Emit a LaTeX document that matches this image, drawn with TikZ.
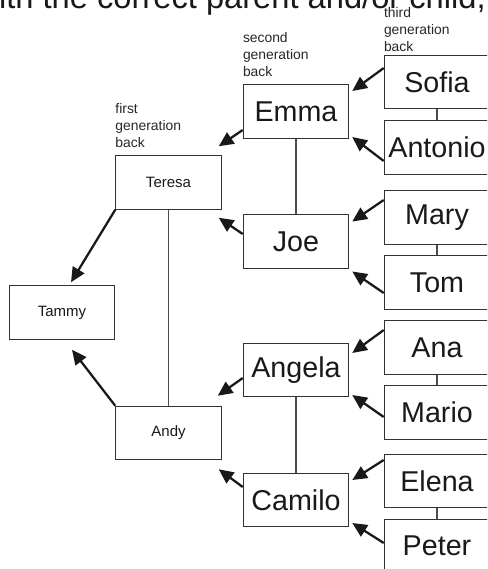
\documentclass[tikz,border=0pt]{standalone}
\usepackage{fontspec}
\setmainfont{Liberation Sans}
\usetikzlibrary{arrows.meta}

\tikzset{
	person/.style={draw=black!80, line width=0.9pt, minimum width=79pt, minimum height=40pt, inner sep=0pt, text=black!90},
	bigname/.style={person, font=\fontsize{21.5}{24}\selectfont},
	smallname/.style={person, font=\fontsize{11.25}{13}\selectfont},
	genlabel/.style={align=left, inner sep=0pt, anchor=south west, font=\fontsize{10.4}{12.75}\selectfont, text=black!85},
	parentarrow/.style={line width=1.7pt, black!90, -{Triangle[length=11pt,width=10pt]}},
	couple/.style={line width=0.9pt, black!70}
}

\begin{document}
\begin{tikzpicture}[x=0.75pt, y=-0.75pt]
	\useasboundingbox (0,0) rectangle (487,569);
	\clip (0,0) rectangle (487,569);

	\node [anchor=base east, inner sep=0pt, font=\fontsize{24.5}{28}\selectfont, text=black!90] (title) at (486,8) {with the correct parent and/or child,};

	\node [smallname] (tammy) at (62,312.5) {Tammy};
	\node [smallname] (teresa) at (168.5,182.5) {Teresa};
	\node [smallname] (andy) at (168.5,433) {Andy};

	\foreach \name/\y/\txt in {emma/111.5/Emma, joe/241.5/Joe, angela/370/Angela, camilo/500/Camilo}
		\node [bigname] (\name) at (296,\y) {\txt};

	\foreach \name/\y/\txt in {sofia/82/Sofia, antonio/147.5/Antonio, mary/217.5/Mary, tom/282.5/Tom,
		ana/347.5/Ana, mario/412.5/Mario, elena/481/Elena, peter/546/Peter}
		\node [bigname] (\name) at (437,\y) {\txt};

	\node [genlabel] (firstgen) at ([yshift=5.25pt]teresa.north west) {first\\generation\\back};
	\node [genlabel] (secondgen) at ([yshift=5.25pt]emma.north west) {second\\generation\\back};
	\node [genlabel] (thirdgen) at ([yshift=2.25pt]sofia.north west) {third\\generation\\back};

	\draw [couple] (teresa) -- (andy);
	\draw [couple] (emma) -- (joe);
	\draw [couple] (angela) -- (camilo);
	\foreach \a/\b in {sofia/antonio, mary/tom, ana/mario, elena/peter}
		\draw [couple] (\a) -- (\b);

	\foreach \src/\sy/\dst/\dy in {sofia/-14/emma/-20.5, antonio/13.5/emma/25.5, mary/-17.5/joe/-20, tom/10.5/joe/30,
		ana/-17.5/angela/-17, mario/4.5/angela/25, elena/-21/camilo/-20, peter/-3/camilo/23}
		\draw [parentarrow] ([shift={(0,\sy)}]\src.west) -- ([shift={(3,\dy)}]\dst.east);

	\draw [parentarrow] ([shift={(0,18.5)}]emma.west) -- ([shift={(-3,-9)}]teresa.north east);
	\draw [parentarrow] ([shift={(0,-7.5)}]joe.west) -- ([shift={(-3,8)}]teresa.south east);
	\draw [parentarrow] ([shift={(0,8)}]angela.west) -- ([shift={(-4,-10)}]andy.north east);
	\draw [parentarrow] ([shift={(0,-13)}]camilo.west) -- ([shift={(-3,9)}]andy.south east);
	\draw [parentarrow] (teresa.south west) -- ([shift={(9,-3)}]tammy.north);
	\draw [parentarrow] (andy.north west) -- ([shift={(10,10)}]tammy.south);
\end{tikzpicture}
\end{document}
